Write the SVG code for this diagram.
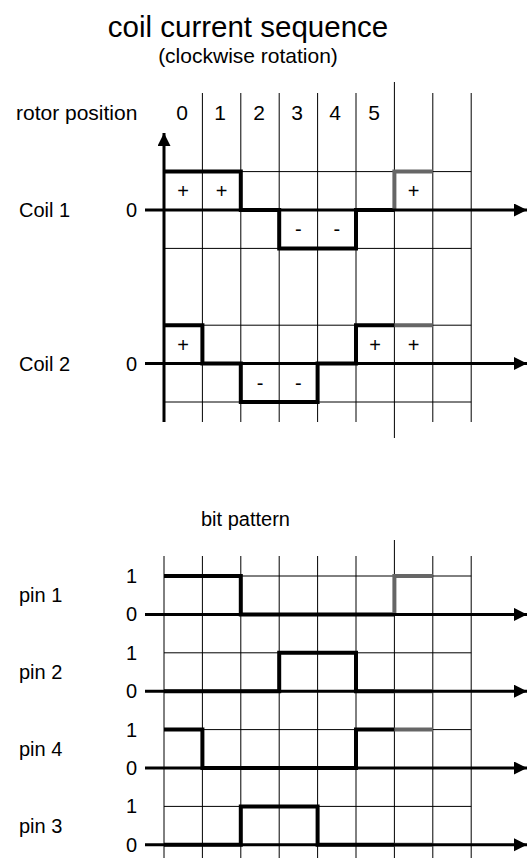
<svg xmlns="http://www.w3.org/2000/svg" width="528" height="858" viewBox="0 0 528 858">
  <style>
    text { font-family: "Liberation Sans", Arial, sans-serif; fill: #000; }
    .title { font-size: 29.5px; text-anchor: middle; }
    .sub { font-size: 21px; text-anchor: middle; }
    .lbl { font-size: 20px; }
    .num { font-size: 21px; text-anchor: middle; }
    .lvl { font-size: 20px; text-anchor: end; }
    .sign { font-size: 20px; text-anchor: middle; }
    .grid { stroke: #000; stroke-width: 1; fill: none; }
    .axis { stroke: #000; stroke-width: 3; fill: none; }
    .wave { stroke: #000; stroke-width: 4; fill: none; stroke-linejoin: miter; }
    .next { stroke: #666; stroke-width: 4; fill: none; stroke-linejoin: miter; }
  </style>
  <defs>
    <marker id="arrow" markerUnits="userSpaceOnUse" markerWidth="14" markerHeight="14" refX="13" refY="6.5" orient="auto">
      <path d="M0,0 L13,6.5 L0,13 z" fill="#000"/>
    </marker>
  </defs>

  <!-- heading -->
  <g id="heading">
    <text class="title" x="248" y="37">coil current sequence</text>
    <text class="sub" x="248" y="63">(clockwise rotation)</text>
  </g>

  <!-- rotor position row -->
  <g id="rotor-position">
    <text class="lbl" x="16" y="120" style="font-size:21px">rotor position</text>
    <text class="num" x="182" y="120">0</text>
    <text class="num" x="220" y="120">1</text>
    <text class="num" x="259" y="120">2</text>
    <text class="num" x="297" y="120">3</text>
    <text class="num" x="335" y="120">4</text>
    <text class="num" x="374" y="120">5</text>
  </g>

  <!-- coil grid -->
  <g id="coil-grid" class="grid">
    <path d="M202.4 93V422M240.8 93V422M279.2 93V422M317.6 93V422M356 93V422M432.8 93V422M471.2 93V422"/>
    <path d="M394.4 82V438"/>
    <path d="M164 171.6H471.2M164 248.4H471.2M164 325.2H471.2M164 402H471.2"/>
  </g>

  <!-- coil 1 -->
  <g id="coil1">
    <text class="lbl" x="19" y="217">Coil 1</text>
    <text class="lvl" x="137" y="217">0</text>
    <path class="wave" d="M164 171.6H240.8V210H279.2V248.4H356V210H394.4"/>
    <path class="next" d="M394.4 210V171.6H432.8"/>
    <text class="sign" x="183.2" y="198">+</text>
    <text class="sign" x="221.6" y="198">+</text>
    <text class="sign" x="298.4" y="236">-</text>
    <text class="sign" x="336.8" y="236">-</text>
    <text class="sign" x="413.6" y="198">+</text>
  </g>

  <!-- coil 2 -->
  <g id="coil2">
    <text class="lbl" x="19" y="370.6">Coil 2</text>
    <text class="lvl" x="137" y="370.6">0</text>
    <path class="wave" d="M164 325.2H202.4V363.6H240.8V402H317.6V363.6H356V325.2H394.4"/>
    <path class="next" d="M394.4 325.2H432.8"/>
    <text class="sign" x="183.2" y="352">+</text>
    <text class="sign" x="260" y="390">-</text>
    <text class="sign" x="298.4" y="390">-</text>
    <text class="sign" x="375.2" y="352">+</text>
    <text class="sign" x="413.6" y="352">+</text>
  </g>

  <!-- bit pattern grid -->
  <g id="bit-grid" class="grid">
    <path d="M164 556V858M202.4 556V858M240.8 556V858M279.2 556V858M317.6 556V858M356 556V858M432.8 556V858M471.2 556V858"/>
    <path d="M394.4 540V858"/>
    <path d="M164 576H471.2M164 652.8H471.2M164 729.6H471.2M164 806.4H471.2"/>
  </g>

  <text id="bit-pattern" class="lbl" x="201" y="526">bit pattern</text>

  <g id="pin1">
    <text class="lbl" x="19" y="602">pin 1</text>
    <text class="lvl" x="137" y="583">1</text>
    <text class="lvl" x="137" y="621.4">0</text>
    <path class="wave" d="M164 576H240.8V614.4H394.4"/>
    <path class="next" d="M394.4 614.4V576H432.8"/>
  </g>
  <g id="pin2">
    <text class="lbl" x="19" y="679">pin 2</text>
    <text class="lvl" x="137" y="659.8">1</text>
    <text class="lvl" x="137" y="698.2">0</text>
    <path class="wave" d="M164 691.2H279.2V652.8H356V691.2H394.4"/>
    <path class="next" d="M394.4 691.2H432.8"/>
  </g>
  <g id="pin4">
    <text class="lbl" x="19" y="756">pin 4</text>
    <text class="lvl" x="137" y="736.6">1</text>
    <text class="lvl" x="137" y="775">0</text>
    <path class="wave" d="M164 729.6H202.4V768H356V729.6H394.4"/>
    <path class="next" d="M394.4 729.6H432.8"/>
  </g>
  <g id="pin3">
    <text class="lbl" x="19" y="832.6">pin 3</text>
    <text class="lvl" x="137" y="813.4">1</text>
    <text class="lvl" x="137" y="851.8">0</text>
    <path class="wave" d="M164 844.8H240.8V806.4H317.6V844.8H394.4"/>
    <path class="next" d="M394.4 844.8H432.8"/>
  </g>

  <!-- axes -->
  <g id="connectors">
    <path class="axis" d="M164 422V133" marker-end="url(#arrow)"/>
    <path class="axis" d="M145 210H527" marker-end="url(#arrow)"/>
    <path class="axis" d="M145 363.6H527" marker-end="url(#arrow)"/>
    <path class="axis" d="M145 614.4H527" marker-end="url(#arrow)"/>
    <path class="axis" d="M145 691.2H527" marker-end="url(#arrow)"/>
    <path class="axis" d="M145 768H527" marker-end="url(#arrow)"/>
    <path class="axis" d="M145 844.8H527" marker-end="url(#arrow)"/>
  </g>
</svg>
